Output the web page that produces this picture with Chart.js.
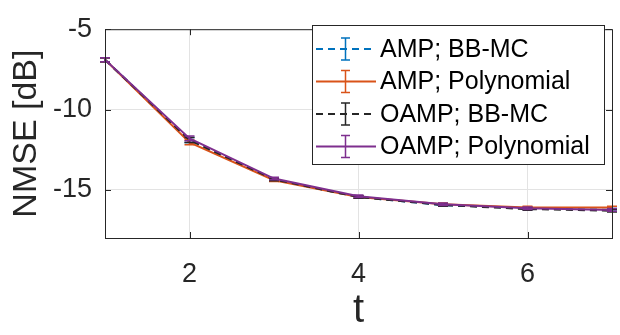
<!DOCTYPE html>
<html>
<head>
<meta charset="utf-8">
<script src="https://cdn.jsdelivr.net/npm/chart.js@4/dist/chart.umd.min.js"></script>
<style>
  html, body { margin: 0; padding: 0; background: #fff; }
  #wrap { width: 620px; height: 335px; }
</style>
</head>
<body>
<div id="wrap"><canvas id="nmseChart"></canvas></div>
<script>
// data
const tValues = [1, 2, 3, 4, 5, 6, 7]
const ampBbmc = [-6.9, -11.9, -14.35, -15.45, -15.95, -16.15, -16.25]
const ampPoly = [-6.9, -12.05, -14.4, -15.45, -15.9, -16.1, -16.1]
const oampBbmc = [-6.9, -11.9, -14.35, -15.45, -15.95, -16.2, -16.3]
const oampPoly = [-6.9, -11.8, -14.3, -15.4, -15.9, -16.15, -16.25]
const errHalf = [0.12, 0.15, 0.08, 0.08, 0.08, 0.08, 0.08]

const seriesLabels = ['AMP; BB-MC', 'AMP; Polynomial', 'OAMP; BB-MC', 'OAMP; Polynomial']
const seriesValues = [ampBbmc, ampPoly, oampBbmc, oampPoly]
const seriesColors = ['#0072BD', '#D95319', '#262626', '#7E2F8E']
const seriesDash = [[7, 5], [], [7, 5], []]

const xTicks = [2, 4, 6]
const yTicks = [-15, -10, -5]

const FONT = '"Liberation Sans", Arial, Helvetica, sans-serif'
const AXIS_COLOR = '#262626'

// error bars drawn right after each dataset line
const errorBars = {
  id: 'errorBars',
  afterDatasetDraw(chart, args) {
    const ctx = chart.ctx
    const yScale = chart.scales.y
    const i = args.index
    ctx.save()
    ctx.strokeStyle = seriesColors[i]
    ctx.lineWidth = 1.5
    ctx.setLineDash([])
    args.meta.data.forEach((pt, k) => {
      const v = seriesValues[i][k]
      const yTop = yScale.getPixelForValue(v + errHalf[k])
      const yBot = yScale.getPixelForValue(v - errHalf[k])
      ctx.beginPath()
      ctx.moveTo(pt.x, yTop); ctx.lineTo(pt.x, yBot)
      ctx.moveTo(pt.x - 5, yTop); ctx.lineTo(pt.x + 5, yTop)
      ctx.moveTo(pt.x - 5, yBot); ctx.lineTo(pt.x + 5, yBot)
      ctx.stroke()
    })
    ctx.restore()
  }
}

// box, inward ticks and the legend inside the axes
const matlabBox = {
  id: 'matlabBox',
  afterDraw(chart) {
    const ctx = chart.ctx
    const a = chart.chartArea
    const xs = chart.scales.x
    const ys = chart.scales.y
    ctx.save()
    ctx.strokeStyle = AXIS_COLOR
    ctx.lineWidth = 1
    ctx.strokeRect(a.left + 0.5, a.top + 0.5, a.right - a.left, a.bottom - a.top)
    ctx.beginPath()
    xTicks.forEach(v => {
      const px = Math.round(xs.getPixelForValue(v)) + 0.5
      ctx.moveTo(px, a.bottom); ctx.lineTo(px, a.bottom - 6)
      ctx.moveTo(px, a.top); ctx.lineTo(px, a.top + 6)
    })
    yTicks.forEach(v => {
      const py = Math.round(ys.getPixelForValue(v)) + 0.5
      ctx.moveTo(a.left, py); ctx.lineTo(a.left + 6, py)
      ctx.moveTo(a.right, py); ctx.lineTo(a.right - 6, py)
    })
    ctx.stroke()

    // legend
    const bx = 312, by = 25, bw = 292, bh = 139
    ctx.fillStyle = '#fff'
    ctx.fillRect(bx, by, bw, bh)
    ctx.strokeRect(bx + 0.5, by + 0.5, bw, bh)
    ctx.font = '25px ' + FONT
    ctx.textBaseline = 'middle'
    seriesLabels.forEach((label, i) => {
      const cy = by + 24 + i * 32.5
      ctx.strokeStyle = seriesColors[i]
      ctx.lineWidth = 2
      ctx.setLineDash(seriesDash[i])
      ctx.beginPath()
      ctx.moveTo(316, cy); ctx.lineTo(376, cy)
      ctx.stroke()
      ctx.setLineDash([])
      ctx.lineWidth = 1.5
      ctx.beginPath()
      ctx.moveTo(345.5, cy - 11); ctx.lineTo(345.5, cy + 11)
      ctx.moveTo(341, cy - 11); ctx.lineTo(350, cy - 11)
      ctx.moveTo(341, cy + 11); ctx.lineTo(350, cy + 11)
      ctx.stroke()
      ctx.fillStyle = '#000'
      ctx.fillText(label, 380, cy + 1)
    })
    ctx.restore()
  }
}

const datasets = seriesLabels.map((label, i) => ({
  label: label,
  data: tValues.map((t, k) => ({ x: t, y: seriesValues[i][k] })),
  borderColor: seriesColors[i],
  backgroundColor: seriesColors[i],
  borderWidth: 2,
  borderDash: seriesDash[i],
  pointRadius: 0,
  tension: 0,
  order: 4 - i
}))

new Chart(document.getElementById('nmseChart'), {
  type: 'line',
  data: { datasets: datasets },
  options: {
    responsive: true,
    maintainAspectRatio: false,
    animation: false,
    devicePixelRatio: 1,
    layout: { padding: { top: 13, right: 8, left: 0, bottom: 0 } },
    plugins: { legend: { display: false }, tooltip: { enabled: false } },
    scales: {
      x: {
        type: 'linear',
        min: 1,
        max: 7,
        afterBuildTicks: axis => { axis.ticks = xTicks.map(v => ({ value: v })) },
        afterFit: axis => { axis.height = 97 },
        grid: { color: '#e3e3e3', drawTicks: false },
        border: { display: false },
        ticks: { color: AXIS_COLOR, padding: 20, font: { family: FONT, size: 27 } },
        title: {
          display: true, text: 't', color: AXIS_COLOR,
          font: { family: FONT, size: 40 }, padding: { top: 0, bottom: 0 }
        }
      },
      y: {
        min: -18,
        max: -5,
        afterBuildTicks: axis => { axis.ticks = yTicks.map(v => ({ value: v })) },
        afterFit: axis => { axis.width = 105 },
        grid: { color: '#e3e3e3', drawTicks: false },
        border: { display: false },
        ticks: { color: AXIS_COLOR, padding: 13, font: { family: FONT, size: 27 } },
        title: {
          display: true, text: 'NMSE [dB]', color: AXIS_COLOR,
          font: { family: FONT, size: 34 }, padding: { top: 6, bottom: 0 }
        }
      }
    }
  },
  plugins: [errorBars, matlabBox]
})
</script>
</body>
</html>
